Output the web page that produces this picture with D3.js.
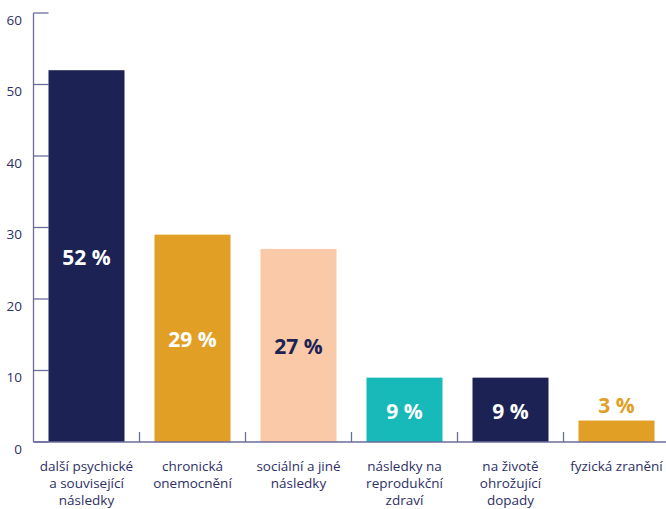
<!DOCTYPE html>
<html>
<head>
<meta charset="utf-8">
<script src="https://cdn.jsdelivr.net/npm/d3@7"></script>
<style>
  html, body { margin: 0; padding: 0; background: #fff; }
  svg { display: block; }
  text { font-family: "Open Sans", "Noto Sans", sans-serif; }
</style>
</head>
<body>
<svg id="chart" width="666" height="509"></svg>
<script>
// Consequences and their shares (%)
const categories = [
  ["další psychické", "a související", "následky"],
  ["chronická", "onemocnění"],
  ["sociální a jiné", "následky"],
  ["následky na", "reprodukční", "zdraví"],
  ["na životě", "ohrožující", "dopady"],
  ["fyzická zranění"]
];
const values = [52, 29, 27, 9, 9, 3];
const barColors = ["#1c2354", "#e29f26", "#f9c9a8", "#17b9b9", "#1c2354", "#e29f26"];
const labelColors = ["#ffffff", "#ffffff", "#1c2354", "#ffffff", "#ffffff", "#e29f26"];
const yTicks = [0, 10, 20, 30, 40, 50, 60];

const axisColor = "#6b6d9c";
const textColor = "#2e3066";

const svg = d3.select("#chart");
const plotLeft = 33.5, plotRight = 669.5, plotTop = 13, plotBottom = 442;

const x = d3.scaleBand()
  .domain(d3.range(values.length))
  .range([plotLeft, plotRight])
  .paddingInner(30 / 106)
  .paddingOuter(15 / 106);

const y = d3.scaleLinear().domain([0, 60]).range([plotBottom, plotTop]);

// Y axis: line, inward ticks, labels slightly below each tick
const gy = svg.append("g");
gy.append("line")
  .attr("x1", plotLeft).attr("x2", plotLeft)
  .attr("y1", y(60)).attr("y2", y(0))
  .attr("stroke", axisColor).attr("stroke-width", 1.3);
gy.selectAll("line.tick").data(yTicks).join("line")
  .attr("class", "tick")
  .attr("x1", plotLeft).attr("x2", plotLeft + 15)
  .attr("y1", d => y(d)).attr("y2", d => y(d))
  .attr("stroke", axisColor).attr("stroke-width", 1.3);
gy.selectAll("text").data(yTicks).join("text")
  .attr("x", 22)
  .attr("y", d => y(d) + 11.5)
  .attr("text-anchor", "end")
  .attr("font-size", 13.5)
  .attr("fill", textColor)
  .text(d => d);

// Bars
svg.append("g").selectAll("rect").data(values).join("rect")
  .attr("x", (d, i) => x(i))
  .attr("width", x.bandwidth())
  .attr("y", d => y(d))
  .attr("height", d => y(0) - y(d))
  .attr("fill", (d, i) => barColors[i]);

// X axis baseline with separators between categories
const gx = svg.append("g");
gx.append("line")
  .attr("x1", plotLeft).attr("x2", 666)
  .attr("y1", plotBottom).attr("y2", plotBottom)
  .attr("stroke", axisColor).attr("stroke-width", 1.3);
const step = x.step();
gx.selectAll("line.sep").data(d3.range(1, values.length)).join("line")
  .attr("class", "sep")
  .attr("x1", i => plotLeft + i * step).attr("x2", i => plotLeft + i * step)
  .attr("y1", plotBottom).attr("y2", plotBottom - 10)
  .attr("stroke", axisColor).attr("stroke-width", 1.3);

// Category labels
gx.selectAll("text").data(categories).join("text")
  .attr("x", (d, i) => x(i) + x.bandwidth() / 2)
  .attr("y", 471)
  .attr("text-anchor", "middle")
  .attr("font-size", 13.5)
  .attr("fill", textColor)
  .each(function (lines) {
    d3.select(this).selectAll("tspan").data(lines).join("tspan")
      .attr("x", d3.select(this).attr("x"))
      .attr("dy", (l, j) => j === 0 ? 0 : 17)
      .text(l => l);
  });

// Value labels: centred in tall bars, above short ones
svg.append("g").selectAll("text").data(values).join("text")
  .attr("x", (d, i) => x(i) + x.bandwidth() / 2)
  .attr("y", d => (y(0) - y(d)) > 40 ? (y(d) + y(0)) / 2 + 9 : y(d) - 8)
  .attr("text-anchor", "middle")
  .attr("font-size", 21)
  .attr("font-weight", 700)
  .attr("fill", (d, i) => labelColors[i])
  .text(d => d + " %");
</script>
</body>
</html>
